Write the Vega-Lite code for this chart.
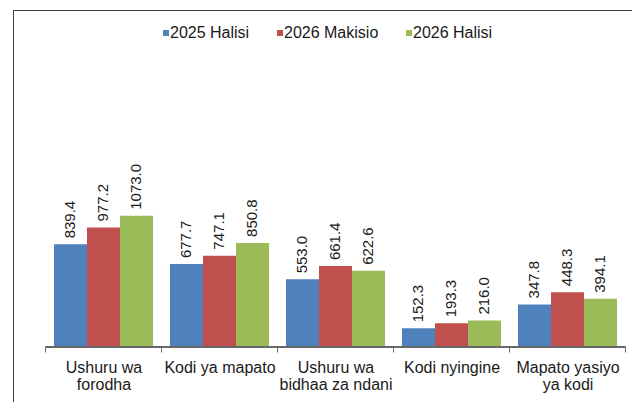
{
  "$schema": "https://vega.github.io/schema/vega-lite/v6.json",
  "width": 619,
  "height": 392,
  "padding": {"left": 13, "top": 10, "right": 0, "bottom": 0},
  "autosize": {"type": "none"},
  "background": "white",
  "config": {"view": {"stroke": null}, "font": "Liberation Sans"},
  "data": {
    "values": [
      {"cat": "Ushuru wa|forodha", "series": "2025 Halisi", "value": 839.4},
      {"cat": "Ushuru wa|forodha", "series": "2026 Makisio", "value": 977.2},
      {"cat": "Ushuru wa|forodha", "series": "2026 Halisi", "value": 1073.0},
      {"cat": "Kodi ya mapato", "series": "2025 Halisi", "value": 677.7},
      {"cat": "Kodi ya mapato", "series": "2026 Makisio", "value": 747.1},
      {"cat": "Kodi ya mapato", "series": "2026 Halisi", "value": 850.8},
      {"cat": "Ushuru wa|bidhaa za ndani", "series": "2025 Halisi", "value": 553.0},
      {"cat": "Ushuru wa|bidhaa za ndani", "series": "2026 Makisio", "value": 661.4},
      {"cat": "Ushuru wa|bidhaa za ndani", "series": "2026 Halisi", "value": 622.6},
      {"cat": "Kodi nyingine", "series": "2025 Halisi", "value": 152.3},
      {"cat": "Kodi nyingine", "series": "2026 Makisio", "value": 193.3},
      {"cat": "Kodi nyingine", "series": "2026 Halisi", "value": 216.0},
      {"cat": "Mapato yasiyo|ya kodi", "series": "2025 Halisi", "value": 347.8},
      {"cat": "Mapato yasiyo|ya kodi", "series": "2026 Makisio", "value": 448.3},
      {"cat": "Mapato yasiyo|ya kodi", "series": "2026 Halisi", "value": 394.1}
    ]
  },
  "layer": [
    {
      "mark": {"type": "bar"},
      "encoding": {
        "x": {
          "field": "cat", "type": "nominal", "sort": null,
          "scale": {"paddingInner": 0, "paddingOuter": 0.1681, "align": 0.8333},
          "axis": {
            "orient": "bottom", "offset": -55, "domain": false, "ticks": true,
            "tickBand": "extent", "tickSize": 5, "tickColor": "#666666", "tickWidth": 1,
            "labelAngle": 0, "labelFontSize": 16, "labelColor": "#1a1a1a",
            "labelPadding": 7, "labelLineHeight": 17, "labelLimit": 0,
            "labelExpr": "split(datum.label, '|')", "labelBaseline": "top",
            "title": null, "grid": false
          }
        },
        "xOffset": {
          "field": "series", "type": "nominal",
          "sort": ["2025 Halisi", "2026 Makisio", "2026 Halisi"],
          "scale": {"paddingInner": 0, "paddingOuter": 0.2576}
        },
        "y": {
          "field": "value", "type": "quantitative", "stack": null,
          "scale": {"domain": [-449.7, 2755.5], "nice": false},
          "axis": {
            "orient": "left", "domain": true, "domainColor": "#404040", "domainWidth": 1,
            "ticks": false, "labels": false, "grid": false, "title": null
          }
        },
        "color": {
          "field": "series", "type": "nominal",
          "sort": ["2025 Halisi", "2026 Makisio", "2026 Halisi"],
          "scale": {
            "domain": ["2025 Halisi", "2026 Makisio", "2026 Halisi"],
            "range": ["#4F81BD", "#C0504D", "#9BBB59"]
          },
          "legend": {
            "orient": "none", "legendX": 145, "legendY": 15, "direction": "horizontal",
            "title": null, "symbolType": "square", "symbolSize": 36, "symbolStrokeWidth": 0,
            "labelFontSize": 16, "labelColor": "#1a1a1a", "labelOffset": -4,
            "columnPadding": 22, "padding": 0, "labelFont": "Liberation Sans"
          }
        }
      }
    },
    {
      "mark": {"type": "text", "angle": 270, "align": "left", "baseline": "middle", "dx": 6, "fontSize": 15, "color": "#1a1a1a"},
      "encoding": {
        "x": {"field": "cat", "type": "nominal", "sort": null},
        "xOffset": {"field": "series", "type": "nominal", "sort": ["2025 Halisi", "2026 Makisio", "2026 Halisi"]},
        "y": {"field": "value", "type": "quantitative", "stack": null},
        "text": {"field": "value", "type": "quantitative", "format": ".1f"}
      }
    },
    {
      "mark": {"type": "bar", "fill": "transparent", "stroke": "#666666", "strokeWidth": 1},
      "encoding": {
        "x": {"field": "cat", "type": "nominal", "sort": null},
        "y": {"datum": 0, "type": "quantitative"},
        "y2": {"datum": 0}
      }
    },
    {
      "mark": {"type": "rule", "color": "#404040", "strokeWidth": 1},
      "encoding": {"y": {"datum": 2751.4, "type": "quantitative"}}
    }
  ]
}
